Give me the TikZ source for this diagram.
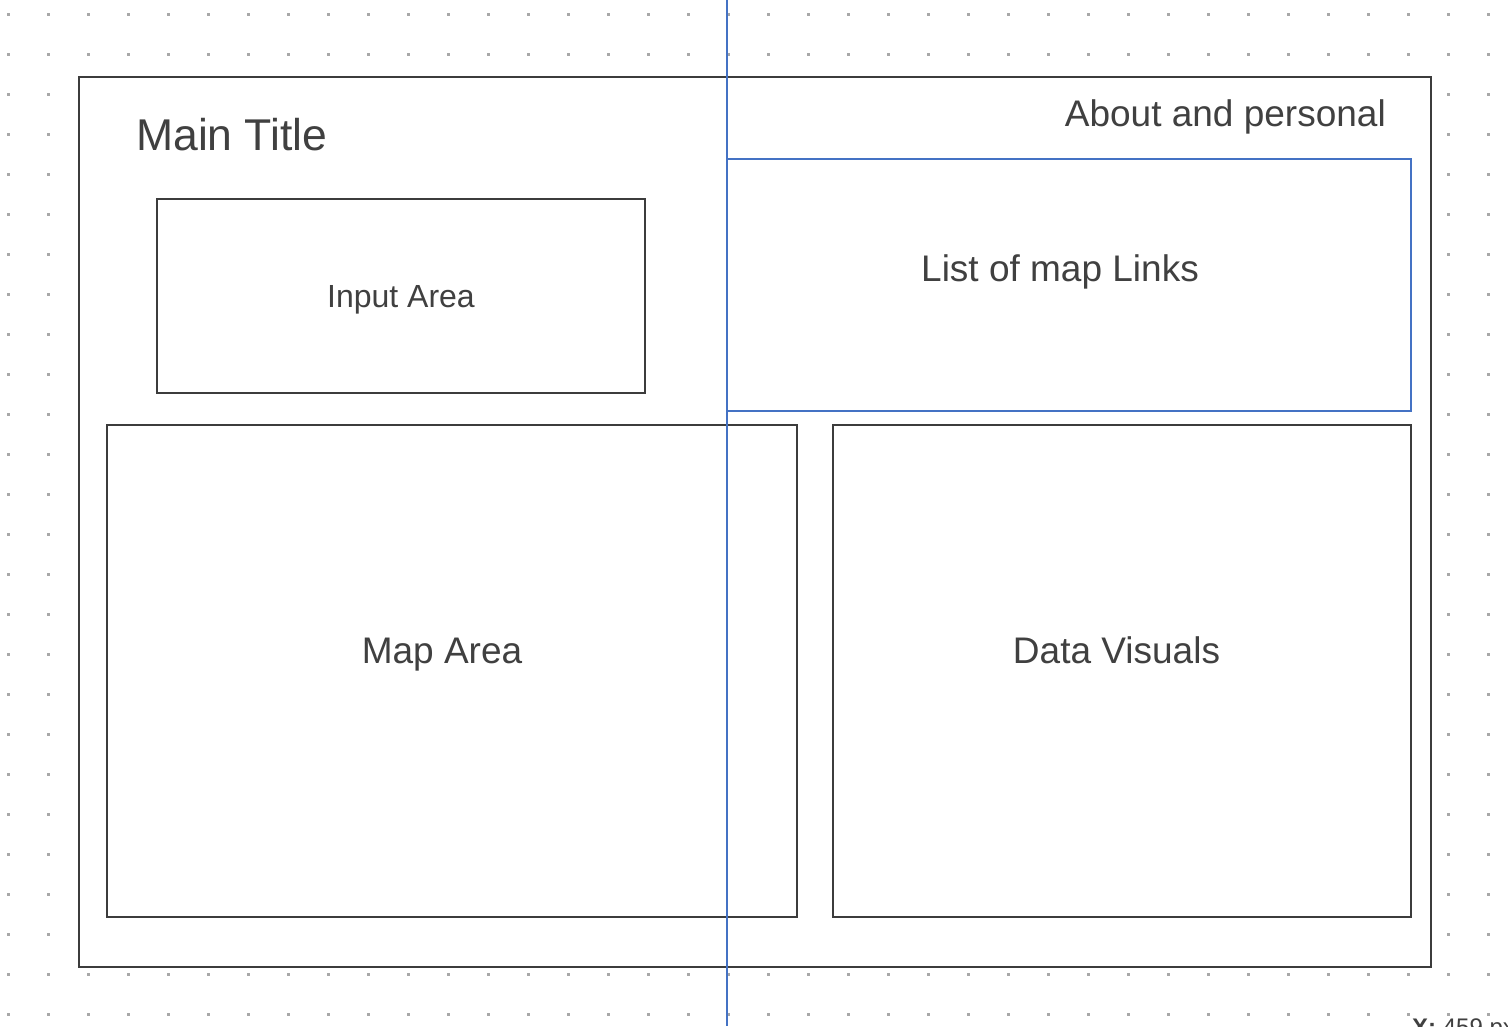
\documentclass[tikz,border=0pt]{standalone}
\usepackage{fontspec}
\setmainfont{Liberation Sans}
\definecolor{boxline}{HTML}{3C3C3C}
\definecolor{txt}{HTML}{404040}
\definecolor{guide}{HTML}{4472C4}
\definecolor{dotc}{HTML}{A8A8A8}
\tikzset{
  box/.style={draw=boxline, line width=2pt, fill=white, rectangle, inner sep=0pt},
  bluebox/.style={draw=guide, line width=2pt, rectangle, inner sep=0pt},
  lbl/.style={text=txt, inner sep=0pt, font=\fontsize{37}{44}\selectfont},
}
\begin{document}
\begin{tikzpicture}[x=1pt,y=-1pt]
\useasboundingbox (0,0) rectangle (1508,1026);
\clip (0,0) rectangle (1508,1026);
\fill[white] (0,0) rectangle (1508,1026);
% dot grid
\foreach \i in {0,...,37}{
  \foreach \j in {0,...,25}{
    \fill[dotc] ({8+40*\i-1.5},{14+40*\j-1.5}) rectangle ++(3,3);
  }
}
% boxes
\node[box, minimum width=1352pt, minimum height=890pt] (outer) at (755,522) {};
\node[box, minimum width=488pt, minimum height=194pt] (input) at (401,296) {};
\node[box, minimum width=690pt, minimum height=492pt] (map) at (452,671) {};
\node[box, minimum width=578pt, minimum height=492pt] (data) at (1122,671) {};
\node[bluebox, minimum width=684pt, minimum height=252pt] (links) at (1069,285) {};
% blue guide line
\coordinate (gtop) at (727,0);
\coordinate (gbot) at (727,1026);
\draw[guide, line width=2pt] (gtop) -- (gbot);
% labels
\node[lbl, font=\fontsize{44.5}{52}\selectfont, anchor=base west] (title) at (136,150) {Main Title};
\node[lbl, anchor=base east] (about) at (1386,126) {About and personal};
\node[lbl, anchor=base] (linkstxt) at (1060,281) {List of map Links};
\node[lbl, font=\fontsize{32}{38}\selectfont, anchor=base] (inputtxt) at (401,307) {Input Area};
\node[lbl, anchor=base] (maptxt) at (442,663) {Map Area};
\node[lbl, anchor=base] (datatxt) at (1116.5,663) {Data Visuals};
\node[text=txt, inner sep=0pt, anchor=base west, font=\fontsize{24}{28}\selectfont] (coord) at (1412,1035) {\textbf{X:} 459 px};
\end{tikzpicture}
\end{document}
